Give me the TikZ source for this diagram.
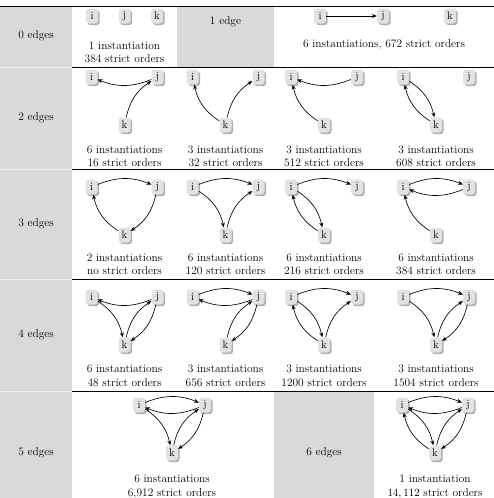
\documentclass[tikz,border=0pt]{standalone}
\usepackage{tikz}
\usetikzlibrary{arrows.meta, shadows}
\definecolor{cellgray}{RGB}{217,217,217}
\definecolor{vtxfill}{RGB}{226,226,226}
\definecolor{vtxshade}{RGB}{165,165,165}
\definecolor{sepgray}{RGB}{238,238,238}
\tikzset{
  vtx/.style={rectangle, fill=vtxfill, rounded corners=3pt,
    minimum width=12pt, minimum height=15pt, inner sep=1pt,
    font=\fontsize{11}{13}\selectfont,
    drop shadow={shadow xshift=1.6pt, shadow yshift=-1.6pt,
      fill=vtxshade, opacity=0.9}},
  caption/.style={align=center, inner sep=0pt,
    font=\fontsize{11.4}{13.5}\selectfont},
  rowlabel/.style={inner sep=0pt, font=\fontsize{11.4}{13.5}\selectfont},
  link/.style={-{Stealth[length=4.8pt, width=4pt]}, line width=0.65pt,
    bend left=22},
  straight/.style={-{Stealth[length=4.8pt, width=4pt]}, line width=0.65pt},
  rule/.style={line width=0.5pt, color=black},
  softrule/.style={line width=0.6pt, color=sepgray}
}
% three vertices of one small graph: prefix, centre x, top y
\newcommand{\trio}[3]{%
  \node[vtx] (#1i) at (#2-33,#3) {i};
  \node[vtx] (#1j) at (#2+33,#3) {j};
  \node[vtx] (#1k) at (#2,#3+48) {k};}

\begin{document}
\begin{tikzpicture}[x=1pt, y=-1pt]
  \useasboundingbox (0,0) rectangle (494,498);
  % grey cells
  \fill[cellgray] (0,6) rectangle (72,498);
  \fill[cellgray] (177,6) rectangle (274,67);
  \fill[cellgray] (274,391) rectangle (374,498);
  % rules
  \draw[line width=0.8pt] (0,6) -- (494,6);
  \foreach \y in {67,169,279,391} {
    \draw[softrule] (0,\y) -- (72,\y);
    \draw[rule] (72,\y) -- (494,\y);
  }

  % row labels
  \node[rowlabel] (lab0) at (36,36) {0 edges};
  \node[rowlabel] (lab1) at (225.5,22) {1 edge};
  \node[rowlabel] (lab2) at (36,118) {2 edges};
  \node[rowlabel] (lab3) at (36,224) {3 edges};
  \node[rowlabel] (lab4) at (36,335) {4 edges};
  \node[rowlabel] (lab5) at (36,453) {5 edges};
  \node[rowlabel] (lab6) at (324,453) {6 edges};

  % 0 edges
  \node[vtx] (e0i) at (92,16) {i};
  \node[vtx] (e0j) at (124.5,16) {j};
  \node[vtx] (e0k) at (157,16) {k};
  \node[caption] (c0) at (124.5,52.5) {1 instantiation\\384 strict orders};

  % 1 edge
  \node[vtx] (e1i) at (320,16) {i};
  \node[vtx] (e1j) at (383,16) {j};
  \node[vtx] (e1k) at (450,16) {k};
  \draw[straight] (e1i) -- (e1j);
  \node[caption] (c1) at (384,45) {6 instantiations, 672 strict orders};

  % 2 edges
  \trio{e2a}{124.5}{77}
  \draw[link] (e2ak) to (e2aj);
  \draw[link] (e2aj) to (e2ai);
  \node[caption] (c2a) at (124.5,156.5) {6 instantiations\\16 strict orders};
  \trio{e2b}{225.5}{77}
  \draw[link] (e2bk) to (e2bi);
  \draw[link] (e2bk) to (e2bj);
  \node[caption] (c2b) at (225.5,156.5) {3 instantiations\\32 strict orders};
  \trio{e2c}{324}{77}
  \draw[link] (e2cj) to (e2ci);
  \draw[link] (e2ck) to (e2ci);
  \node[caption] (c2c) at (324,156.5) {3 instantiations\\512 strict orders};
  \trio{e2d}{436}{77}
  \draw[link] (e2di) to (e2dk);
  \draw[link] (e2dk) to (e2di);
  \node[caption] (c2d) at (436,156.5) {3 instantiations\\608 strict orders};

  % 3 edges
  \trio{e3a}{124.5}{187}
  \draw[link] (e3ai) to (e3aj);
  \draw[link] (e3aj) to (e3ak);
  \draw[link] (e3ak) to (e3ai);
  \node[caption] (c3a) at (124.5,264.5) {2 instantiations\\no strict orders};
  \trio{e3b}{225.5}{187}
  \draw[link] (e3bi) to (e3bj);
  \draw[link] (e3bi) to (e3bk);
  \draw[link] (e3bk) to (e3bj);
  \node[caption] (c3b) at (225.5,264.5) {6 instantiations\\120 strict orders};
  \trio{e3c}{324}{187}
  \draw[link] (e3ci) to (e3cj);
  \draw[link] (e3ci) to (e3ck);
  \draw[link] (e3ck) to (e3ci);
  \node[caption] (c3c) at (324,264.5) {6 instantiations\\216 strict orders};
  \trio{e3d}{436}{187}
  \draw[link] (e3di) to (e3dj);
  \draw[link] (e3dj) to (e3di);
  \draw[link] (e3dk) to (e3di);
  \node[caption] (c3d) at (436,264.5) {6 instantiations\\384 strict orders};

  % 4 edges
  \trio{e4a}{124.5}{297}
  \draw[link] (e4aj) to (e4ai);
  \draw[link] (e4ai) to (e4ak);
  \draw[link] (e4ak) to (e4aj);
  \draw[link] (e4aj) to (e4ak);
  \node[caption] (c4a) at (124.5,376) {6 instantiations\\48 strict orders};
  \trio{e4b}{225.5}{297}
  \draw[link] (e4bi) to (e4bj);
  \draw[link] (e4bj) to (e4bi);
  \draw[link] (e4bk) to (e4bj);
  \draw[link] (e4bj) to (e4bk);
  \node[caption] (c4b) at (225.5,376) {3 instantiations\\656 strict orders};
  \trio{e4c}{324}{297}
  \draw[link] (e4ci) to (e4cj);
  \draw[link] (e4ci) to (e4ck);
  \draw[link] (e4ck) to (e4cj);
  \draw[link] (e4ck) to (e4ci);
  \node[caption] (c4c) at (324,376) {3 instantiations\\1200 strict orders};
  \trio{e4d}{436}{297}
  \draw[link] (e4di) to (e4dj);
  \draw[link] (e4di) to (e4dk);
  \draw[link] (e4dk) to (e4dj);
  \draw[link] (e4dj) to (e4dk);
  \node[caption] (c4d) at (436,376) {3 instantiations\\1504 strict orders};

  % 5 edges
  \trio{e5}{172}{405}
  \draw[link] (e5i) to (e5j);
  \draw[link] (e5j) to (e5i);
  \draw[link] (e5i) to (e5k);
  \draw[link] (e5k) to (e5j);
  \draw[link] (e5j) to (e5k);
  \node[caption] (c5) at (172,487) {6 instantiations\\6,912 strict orders};

  % 6 edges
  \trio{e6}{435}{405}
  \draw[link] (e6i) to (e6j);
  \draw[link] (e6j) to (e6i);
  \draw[link] (e6i) to (e6k);
  \draw[link] (e6k) to (e6i);
  \draw[link] (e6k) to (e6j);
  \draw[link] (e6j) to (e6k);
  \node[caption] (c6) at (435,487) {1 instantiation\\$14,112$ strict orders};
\end{tikzpicture}
\end{document}
